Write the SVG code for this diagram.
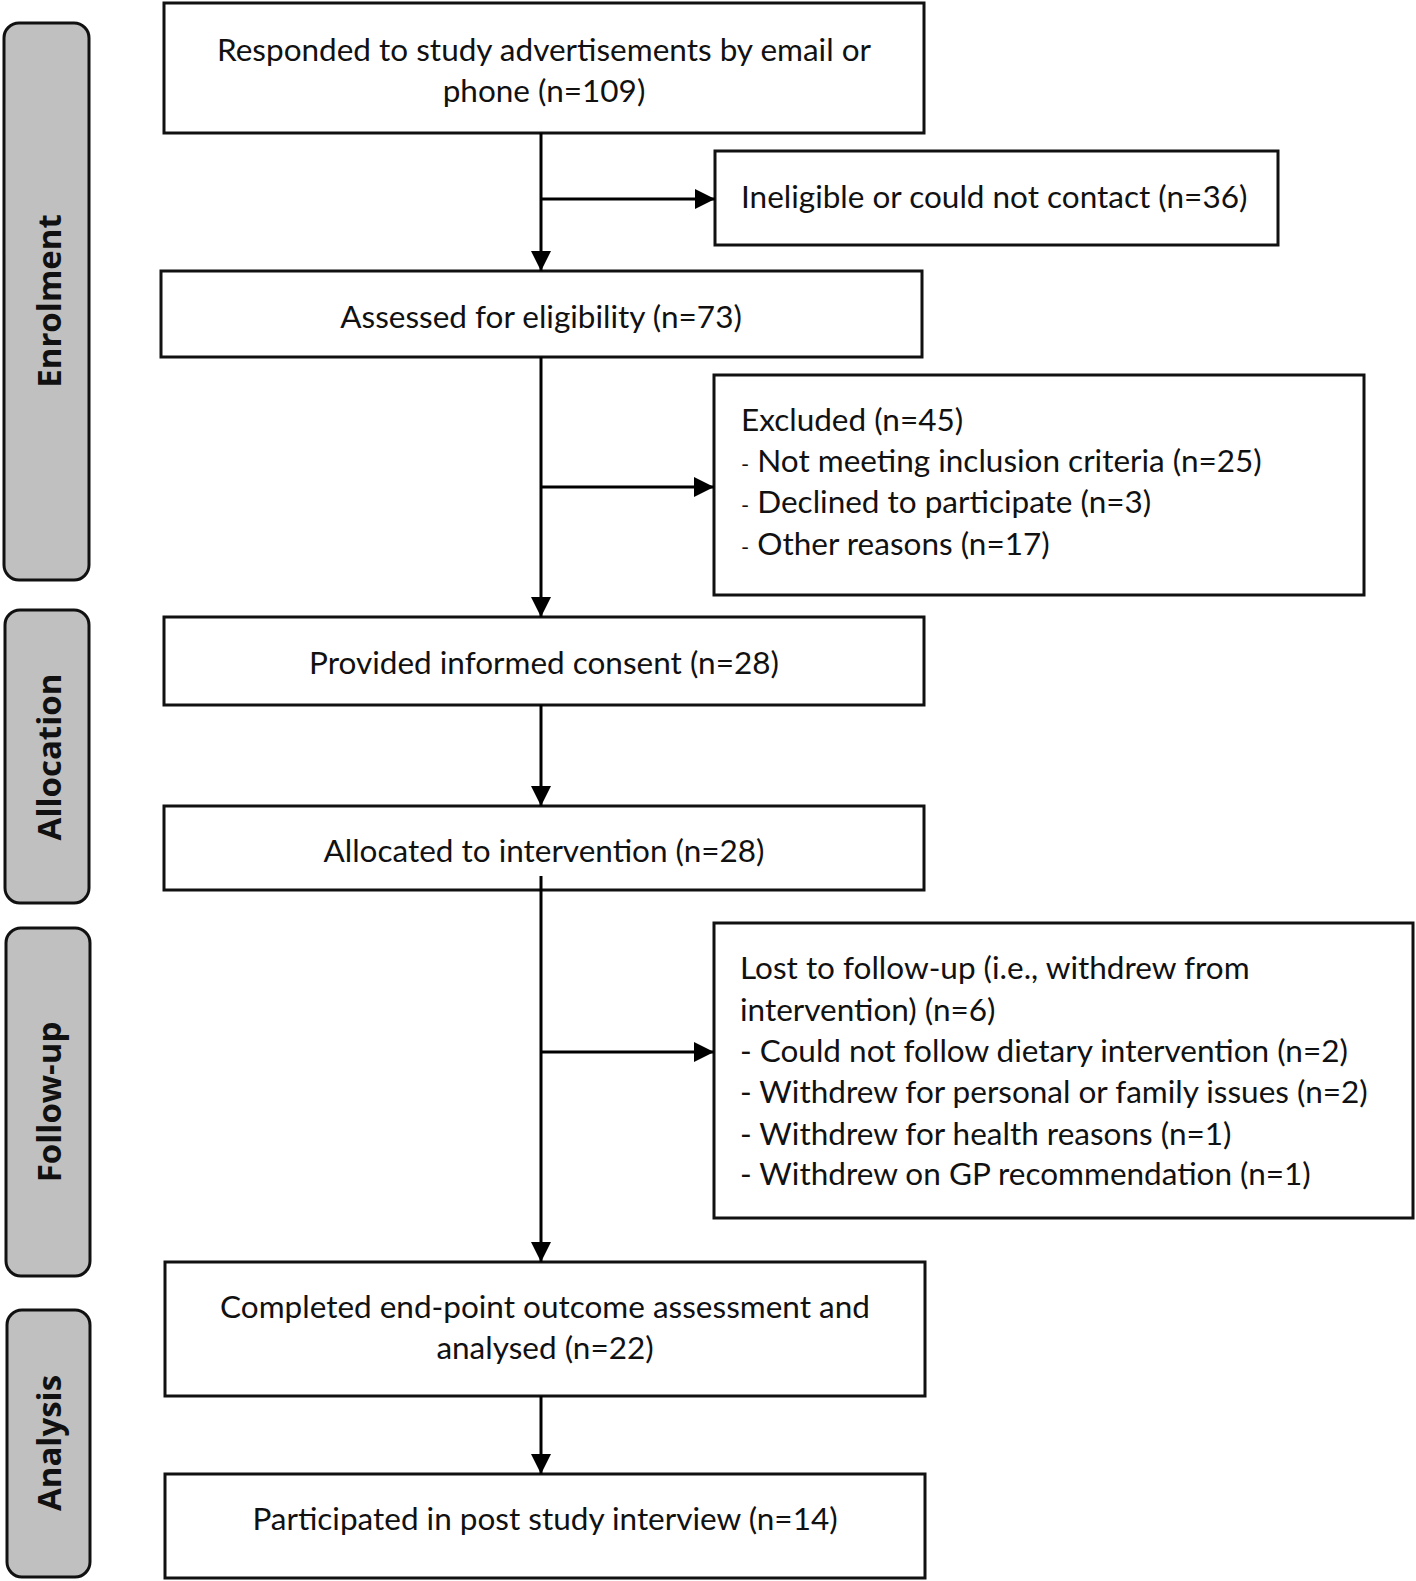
<svg xmlns="http://www.w3.org/2000/svg" width="1416" height="1581" viewBox="0 0 1416 1581">
<defs>
<marker id="ah" markerWidth="20" markerHeight="20" refX="20" refY="10" orient="auto" markerUnits="userSpaceOnUse">
<path d="M0,0 L20,10 L0,20 Z" fill="#000"/>
</marker>
<style>
.stage{fill:#c0c0c0;stroke:#111;stroke-width:3}
.box{fill:#fff;stroke:#111;stroke-width:3}
.lab{font-family:"Open Sans","DejaVu Sans",sans-serif;font-weight:bold;font-size:33px;fill:#111;text-anchor:middle}
.t{font-family:Lato,"Open Sans",sans-serif;font-size:31.5px;fill:#111}
.c{text-anchor:middle}
.conn{stroke:#000;stroke-width:3;fill:none}
</style>
</defs>
<rect width="1416" height="1581" fill="#fff"/>
<g id="stage-enrolment"><rect class="stage" x="4" y="23" width="85" height="557" rx="15"/><text class="lab" transform="translate(61,301) rotate(-90)">Enrolment</text></g>
<g id="stage-allocation"><rect class="stage" x="5" y="610" width="84" height="293" rx="15"/><text class="lab" transform="translate(61,757) rotate(-90)">Allocation</text></g>
<g id="stage-followup"><rect class="stage" x="6" y="928" width="84" height="348" rx="15"/><text class="lab" transform="translate(61,1102) rotate(-90)">Follow-up</text></g>
<g id="stage-analysis"><rect class="stage" x="7" y="1310" width="83" height="267" rx="15"/><text class="lab" transform="translate(61,1443) rotate(-90)">Analysis</text></g>

<g id="n-responded"><rect class="box" x="164" y="3" width="760" height="130"/><text class="t c" x="544" y="61">Responded to study advertisements by email or</text><text class="t c" x="544" y="102">phone (n=109)</text></g>
<g id="n-ineligible"><rect class="box" x="715" y="151" width="563" height="94"/><text class="t" x="741" y="208">Ineligible or could not contact (n=36)</text></g>
<g id="n-assessed"><rect class="box" x="161" y="271" width="761" height="86"/><text class="t c" x="541" y="328">Assessed for eligibility (n=73)</text></g>
<g id="n-excluded"><rect class="box" x="714" y="375" width="650" height="220"/>
<text class="t" x="741" y="431">Excluded (n=45)</text>
<text class="t" x="741" y="472"><tspan font-size="22">-</tspan> Not meeting inclusion criteria (n=25)</text>
<text class="t" x="741" y="513"><tspan font-size="22">-</tspan> Declined to participate (n=3)</text>
<text class="t" x="741" y="555"><tspan font-size="22">-</tspan> Other reasons (n=17)</text></g>
<g id="n-consent"><rect class="box" x="164" y="617" width="760" height="88"/><text class="t c" x="544" y="674">Provided informed consent (n=28)</text></g>
<g id="n-allocated"><rect class="box" x="164" y="806" width="760" height="84"/><text class="t c" x="544" y="862">Allocated to intervention (n=28)</text></g>
<g id="n-lost"><rect class="box" x="714" y="923" width="699" height="295"/>
<text class="t" x="740" y="979">Lost to follow-up (i.e., withdrew from</text>
<text class="t" x="740" y="1021">intervention) (n=6)</text>
<text class="t" x="740" y="1062">- Could not follow dietary intervention (n=2)</text>
<text class="t" x="740" y="1103">- Withdrew for personal or family issues (n=2)</text>
<text class="t" x="740" y="1145">- Withdrew for health reasons (n=1)</text>
<text class="t" x="740" y="1185">- Withdrew on GP recommendation (n=1)</text></g>
<g id="n-completed"><rect class="box" x="165" y="1262" width="760" height="134"/><text class="t c" x="545" y="1318">Completed end-point outcome assessment and</text><text class="t c" x="545" y="1359">analysed (n=22)</text></g>
<g id="n-interview"><rect class="box" x="165" y="1474" width="760" height="104"/><text class="t c" x="545" y="1530">Participated in post study interview (n=14)</text></g>

<g id="connectors">
<line class="conn" x1="541" y1="133" x2="541" y2="271" marker-end="url(#ah)"/>
<line class="conn" x1="541" y1="199" x2="715" y2="199" marker-end="url(#ah)"/>
<line class="conn" x1="541" y1="357" x2="541" y2="617" marker-end="url(#ah)"/>
<line class="conn" x1="541" y1="487" x2="714" y2="487" marker-end="url(#ah)"/>
<line class="conn" x1="541" y1="705" x2="541" y2="806" marker-end="url(#ah)"/>
<line class="conn" x1="541" y1="876" x2="541" y2="1262" marker-end="url(#ah)"/>
<line class="conn" x1="541" y1="1052" x2="714" y2="1052" marker-end="url(#ah)"/>
<line class="conn" x1="541" y1="1396" x2="541" y2="1474" marker-end="url(#ah)"/>
</g>
</svg>
